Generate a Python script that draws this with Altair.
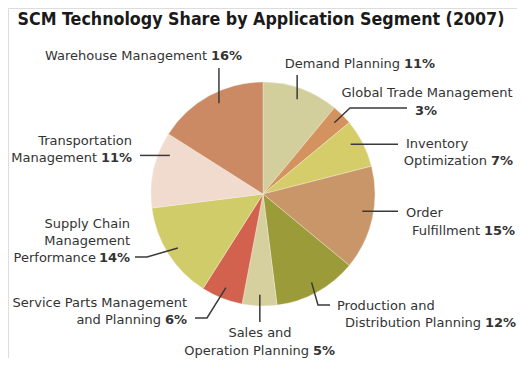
import math
import altair as alt
import pandas as pd

# ---------------- data ----------------
segments = [
    "Demand Planning",
    "Global Trade Management",
    "Inventory Optimization",
    "Order Fulfillment",
    "Production and Distribution Planning",
    "Sales and Operation Planning",
    "Service Parts Management and Planning",
    "Supply Chain Management Performance",
    "Transportation Management",
    "Warehouse Management",
]
shares = [11, 3, 7, 15, 12, 5, 6, 14, 11, 16]
colors = [
    "#d2cf9c", "#d4925e", "#d5cc6a", "#c99669", "#9c9b3a",
    "#d5d09e", "#d2614e", "#d1cc6a", "#f1dbcf", "#cc8a64",
]
pct_labels = [f"{s}%" for s in shares]
title_text = "SCM Technology Share by Application Segment (2007)"

# ---------------- layout (page pixel coords; chart = page - 8) ----------------
W, H = 509, 350
OFF = 8
CX, CY, R = 263 - OFF, 194 - OFF, 112

# label text lines: (text or index of pct, x, y, align, bold)
label_lines = {
    0: [("Demand Planning", 400, 68, "right", False), (0, 404, 68, "left", True)],
    1: [("Global Trade Management", 427, 97, "center", False), (1, 426, 115, "center", True)],
    2: [("Inventory", 406, 148, "left", False), ("Optimization", 487, 165, "right", False),
        (2, 491, 165, "left", True)],
    3: [("Order", 406, 217, "left", False), ("Fulfillment", 480, 235, "right", False),
        (3, 484, 235, "left", True)],
    4: [("Production and", 337, 310, "left", False), ("Distribution Planning", 481, 327, "right", False),
        (4, 485, 327, "left", True)],
    5: [("Sales and", 260, 337, "center", False), ("Operation Planning", 309, 355, "right", False),
        (5, 313, 355, "left", True)],
    6: [("Service Parts Management", 187, 307, "right", False), ("and Planning", 161, 324, "right", False),
        (6, 187, 324, "right", True)],
    7: [("Supply Chain", 130, 228, "right", False), ("Management", 130, 245, "right", False),
        ("Performance", 96, 262, "right", False), (7, 130, 262, "right", True)],
    8: [("Transportation", 132, 145, "right", False), ("Management", 97, 162, "right", False),
        (8, 132, 162, "right", True)],
    9: [("Warehouse Management", 207, 60, "right", False), (9, 211, 60, "left", True)],
}

# leader lines: position inside slice (0..1) and waypoints (None = keep previous)
leaders = {
    0: (0.5, [(None, 75)]),
    1: (0.5, [(350, 108), (407, 108)]),
    2: (0.4, [(398, None)]),
    3: (0.45, [(398, None)]),
    4: (0.5, [(318, 305), (330, 305)]),
    5: (0.5, [(None, 322)]),
    6: (0.5, [(207, 318), (195, 318)]),
    7: (0.5, [(147, 257), (135, 257)]),
    8: (0.75, [(140, None)]),
    9: (0.55, [(None, 68)]),
}

# ---------------- build tables ----------------
pie_df = pd.DataFrame({"segment": segments, "share": shares, "idx": list(range(len(segments)))})

text_rows = []
for i, lines in label_lines.items():
    for (t, x, y, align, bold) in lines:
        txt = pct_labels[t] if isinstance(t, int) else t
        text_rows.append({"text": txt, "x": x - OFF, "y": y - OFF, "align": align, "bold": bold})
text_df = pd.DataFrame(text_rows)

line_rows = []
total = sum(shares)
cum = 0
for i, s in enumerate(shares):
    t, pts = leaders[i]
    frac = (cum + t * s) / total
    a = 2 * math.pi * frac
    sx = CX + 0.9 * R * math.sin(a)
    sy = CY - 0.9 * R * math.cos(a)
    px, py = sx, sy
    line_rows.append({"key": i, "seq": 0, "x": px, "y": py})
    for j, (wx, wy) in enumerate(pts, start=1):
        px = px if wx is None else wx - OFF
        py = py if wy is None else wy - OFF
        line_rows.append({"key": i, "seq": j, "x": px, "y": py})
    cum += s
line_df = pd.DataFrame(line_rows)

xs = alt.Scale(domain=[0, W], nice=False, zero=False)
ys = alt.Scale(domain=[H, 0], nice=False, zero=False)
FONT = "DejaVu Sans"
TXT = "#333333"

pie = alt.Chart(pie_df).mark_arc(radius=R, stroke="#f4f0e0", strokeWidth=0.4).encode(
    theta=alt.Theta("share:Q", stack=True),
    color=alt.Color("segment:N", scale=alt.Scale(domain=segments, range=colors), legend=None),
    order=alt.Order("idx:Q", sort="ascending"),
    x=alt.value(CX),
    y=alt.value(CY),
)

lines = alt.Chart(line_df).mark_line(color="#3a3a3a", strokeWidth=1.5).encode(
    x=alt.X("x:Q", scale=xs, axis=None),
    y=alt.Y("y:Q", scale=ys, axis=None),
    detail="key:N",
    order="seq:Q",
)

text_layers = []
for align in ["left", "center", "right"]:
    for bold in [False, True]:
        sub = text_df[(text_df["align"] == align) & (text_df["bold"] == bold)]
        if len(sub) == 0:
            continue
        text_layers.append(
            alt.Chart(sub).mark_text(
                align=align, baseline="alphabetic", font=FONT, fontSize=13,
                fontWeight="bold" if bold else "normal", color=TXT,
            ).encode(
                x=alt.X("x:Q", scale=xs, axis=None),
                y=alt.Y("y:Q", scale=ys, axis=None),
                text="text:N",
            )
        )

title_df = pd.DataFrame({"text": [title_text], "x": [261 - OFF], "y": [25 - OFF]})
title = alt.Chart(title_df).mark_text(
    align="center", baseline="alphabetic", font="DejaVu Sans Condensed", fontSize=17.7,
    fontWeight="bold", color="#1a1a1a",
).encode(
    x=alt.X("x:Q", scale=xs, axis=None),
    y=alt.Y("y:Q", scale=ys, axis=None),
    text="text:N",
)

chart = alt.layer(pie, lines, *text_layers, title).properties(
    width=W, height=H, autosize="none", padding=0,
).configure_view(stroke=None).configure(background="#ffffff")

chart.save("out.html", embed_options={"renderer": "svg", "actions": False})
